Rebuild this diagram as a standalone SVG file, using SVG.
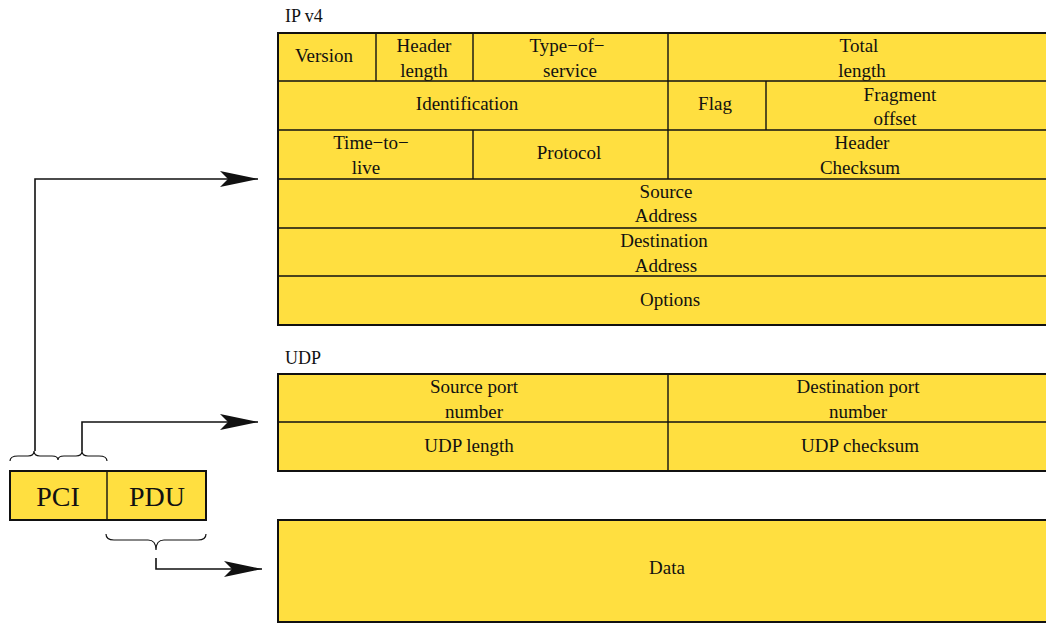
<svg xmlns="http://www.w3.org/2000/svg" width="1046" height="624" viewBox="0 0 1046 624">
  <style>
    .cell { fill: #FFDF40; stroke: #111; stroke-width: 1.5; }
    .frame { fill: none; stroke: #111; stroke-width: 2; }
    .div { stroke: #111; stroke-width: 1.4; fill: none; }
    .t { font-size: 19px; text-anchor: middle; fill: #111; }
    .lbl { font-size: 18px; fill: #111; }
    .big { font-size: 28px; text-anchor: middle; fill: #111; }
    .wire { fill: none; stroke: #111; stroke-width: 1.6; }
    .brace { fill: none; stroke: #111; stroke-width: 1.2; }
  </style>
  <defs>
    <marker id="head" markerUnits="userSpaceOnUse" markerWidth="40" markerHeight="20" refX="38" refY="8" orient="auto">
      <path d="M38,8 L0,0 L8,8 L0,16 Z" fill="#111"/>
    </marker>
  </defs>

  <rect width="1046" height="624" fill="#fff"/>

  <!-- IPv4 header -->
  <g id="ipv4">
    <text class="lbl" font-family="Liberation Serif" x="285" y="22">IP v4</text>
    <rect class="cell" x="278" y="33" width="780" height="292"/>
    <path class="div" d="M278,81 H1058 M278,130 H1058 M278,179 H1058 M278,228 H1058 M278,276 H1058"/>
    <path class="div" d="M376,33 V81 M473,33 V81 M668,33 V179 M766,81 V130 M473,130 V179"/>
    <rect class="frame" x="278" y="33" width="780" height="292"/>
    <text class="t" font-family="Liberation Serif" x="324" y="62">Version</text>
    <text class="t" font-family="Liberation Serif" x="424" y="52">Header</text>
    <text class="t" font-family="Liberation Serif" x="424" y="77">length</text>
    <text class="t" font-family="Liberation Serif" x="567" y="52">Type−of−</text>
    <text class="t" font-family="Liberation Serif" x="570" y="77">service</text>
    <text class="t" font-family="Liberation Serif" x="859" y="52">Total</text>
    <text class="t" font-family="Liberation Serif" x="862" y="77">length</text>
    <text class="t" font-family="Liberation Serif" x="467" y="110">Identification</text>
    <text class="t" font-family="Liberation Serif" x="715" y="110">Flag</text>
    <text class="t" font-family="Liberation Serif" x="900" y="101">Fragment</text>
    <text class="t" font-family="Liberation Serif" x="895" y="125">offset</text>
    <text class="t" font-family="Liberation Serif" x="371" y="149">Time−to−</text>
    <text class="t" font-family="Liberation Serif" x="366" y="174">live</text>
    <text class="t" font-family="Liberation Serif" x="569" y="159">Protocol</text>
    <text class="t" font-family="Liberation Serif" x="862" y="149">Header</text>
    <text class="t" font-family="Liberation Serif" x="860" y="174">Checksum</text>
    <text class="t" font-family="Liberation Serif" x="666" y="198">Source</text>
    <text class="t" font-family="Liberation Serif" x="666" y="222">Address</text>
    <text class="t" font-family="Liberation Serif" x="664" y="247">Destination</text>
    <text class="t" font-family="Liberation Serif" x="666" y="272">Address</text>
    <text class="t" font-family="Liberation Serif" x="670" y="306">Options</text>
  </g>

  <!-- UDP header -->
  <g id="udp">
    <text class="lbl" font-family="Liberation Serif" x="285" y="364">UDP</text>
    <rect class="cell" x="278" y="374" width="780" height="97"/>
    <path class="div" d="M278,422 H1058 M668,374 V471"/>
    <rect class="frame" x="278" y="374" width="780" height="97"/>
    <text class="t" font-family="Liberation Serif" x="474" y="393">Source port</text>
    <text class="t" font-family="Liberation Serif" x="474" y="418">number</text>
    <text class="t" font-family="Liberation Serif" x="858" y="393">Destination port</text>
    <text class="t" font-family="Liberation Serif" x="858" y="418">number</text>
    <text class="t" font-family="Liberation Serif" x="469" y="452">UDP length</text>
    <text class="t" font-family="Liberation Serif" x="860" y="452">UDP checksum</text>
  </g>

  <!-- Payload -->
  <g id="data">
    <rect class="cell" x="278" y="520" width="780" height="102"/>
    <rect class="frame" x="278" y="520" width="780" height="102"/>
    <text class="t" font-family="Liberation Serif" x="667" y="574">Data</text>
  </g>

  <!-- Protocol data unit split -->
  <g id="pdu-box">
    <rect class="cell" x="10" y="471" width="196" height="49"/>
    <path class="div" d="M107,471 V520"/>
    <rect class="frame" x="10" y="471" width="196" height="49"/>
    <text class="big" font-family="Liberation Serif" x="58" y="506">PCI</text>
    <text class="big" font-family="Liberation Serif" x="157" y="506">PDU</text>
  </g>

  <!-- Braces -->
  <g id="braces">
    <path class="brace" d="M10,461 Q10,456 18,456 L28,456 Q34,456 34,451 Q34,456 40,456 L52,456 Q58,456 58,460 Q58,456 64,456 L76,456 Q82,456 82,451 Q82,456 88,456 L99,456 Q107,456 107,461"/>
    <path class="brace" d="M106,534 Q106,540 114,540 L148,540 Q156,540 156,550 Q156,540 164,540 L198,540 Q206,540 206,534"/>
  </g>

  <!-- Connectors -->
  <g id="connectors">
    <path class="wire" d="M35,451 V179 H258" marker-end="url(#head)"/>
    <path class="wire" d="M82,451 V422 H258" marker-end="url(#head)"/>
    <path class="wire" d="M156,558 V569 H262" marker-end="url(#head)"/>
  </g>
</svg>
